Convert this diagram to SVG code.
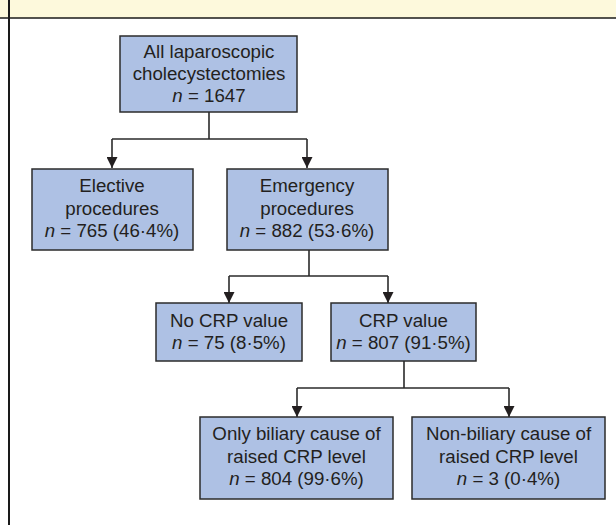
<svg xmlns="http://www.w3.org/2000/svg" width="616" height="525" viewBox="0 0 616 525">
<style>
.box{fill:#aec1e4;stroke:#2b2b2b;stroke-width:1.5}
.ln{fill:none;stroke:#2b2b2b;stroke-width:1.6}
text{font-family:"Liberation Sans",Arial,sans-serif;font-size:18.7px;fill:#231f20;text-anchor:middle}
.i{font-style:italic}
</style>
<defs>
<marker id="ah" markerWidth="11" markerHeight="11" refX="11" refY="5.5" orient="auto" markerUnits="userSpaceOnUse">
<path d="M0,0 L11,5.5 L0,11 Z" fill="#231f20"/>
</marker>
</defs>
<rect x="0" y="0" width="616" height="525" fill="#ffffff"/>
<rect x="0" y="0" width="616" height="18" fill="#fdf9dc"/>
<line x1="0" y1="18" x2="616" y2="18" stroke="#1a1a1a" stroke-width="1.5"/>
<line x1="9" y1="0" x2="9" y2="525" stroke="#1a1a1a" stroke-width="2"/>

<g id="connectors">
<path class="ln" d="M209,112 V139 M112,139 H307"/>
<path class="ln" d="M112,139 V168" marker-end="url(#ah)"/>
<path class="ln" d="M307,139 V168" marker-end="url(#ah)"/>
<path class="ln" d="M309,250 V276 M229,276 H388"/>
<path class="ln" d="M229,276 V303" marker-end="url(#ah)"/>
<path class="ln" d="M388,276 V303" marker-end="url(#ah)"/>
<path class="ln" d="M404,361 V388 M297,388 H509"/>
<path class="ln" d="M297,388 V417" marker-end="url(#ah)"/>
<path class="ln" d="M509,388 V417" marker-end="url(#ah)"/>
</g>

<g id="n-all">
<rect class="box" x="120" y="36" width="177" height="76"/>
<text x="209" y="58">All laparoscopic</text>
<text x="209" y="80">cholecystectomies</text>
<text x="209" y="102"><tspan class="i">n</tspan> = 1647</text>
</g>

<g id="n-elective">
<rect class="box" x="32" y="169" width="161" height="81"/>
<text x="112" y="192">Elective</text>
<text x="112" y="215">procedures</text>
<text x="112" y="237"><tspan class="i">n</tspan> = 765 (46·4%)</text>
</g>

<g id="n-emergency">
<rect class="box" x="227" y="169" width="161" height="81"/>
<text x="307" y="192">Emergency</text>
<text x="307" y="215">procedures</text>
<text x="307" y="237"><tspan class="i">n</tspan> = 882 (53·6%)</text>
</g>

<g id="n-nocrp">
<rect class="box" x="156" y="303" width="146" height="58"/>
<text x="229" y="327">No CRP value</text>
<text x="229" y="349"><tspan class="i">n</tspan> = 75 (8·5%)</text>
</g>

<g id="n-crp">
<rect class="box" x="331" y="303" width="145" height="58"/>
<text x="403.5" y="327">CRP value</text>
<text x="403.5" y="349"><tspan class="i">n</tspan> = 807 (91·5%)</text>
</g>

<g id="n-biliary">
<rect class="box" x="200" y="417" width="193" height="82"/>
<text x="296.5" y="440">Only biliary cause of</text>
<text x="296.5" y="463">raised CRP level</text>
<text x="296.5" y="485"><tspan class="i">n</tspan> = 804 (99·6%)</text>
</g>

<g id="n-nonbiliary">
<rect class="box" x="412" y="417" width="193" height="82"/>
<text x="508.5" y="440">Non-biliary cause of</text>
<text x="508.5" y="463">raised CRP level</text>
<text x="508.5" y="485"><tspan class="i">n</tspan> = 3 (0·4%)</text>
</g>
</svg>
